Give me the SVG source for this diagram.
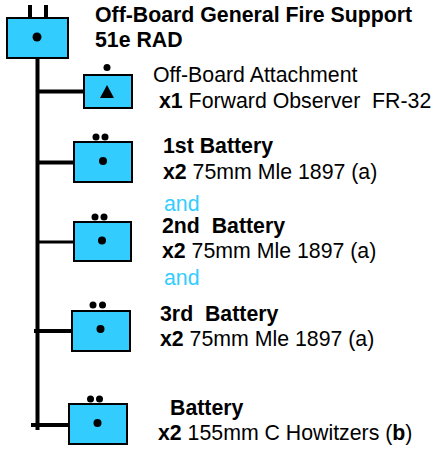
<svg xmlns="http://www.w3.org/2000/svg" width="435" height="449" viewBox="0 0 435 449">
<style>
.box{fill:#33ccff;stroke:#000;stroke-width:2}
.line{stroke:#000;fill:none}
text{font-family:"Liberation Sans",Arial,sans-serif;font-size:21.3px;fill:#000;white-space:pre}
.b{font-weight:bold}
.and{fill:#33ccff}
</style>
<rect width="435" height="449" fill="#fff"/>
<g id="connectors">
<line class="line" x1="37.500" y1="58" x2="37.500" y2="430" stroke-width="4"/>
<line class="line" x1="38" y1="91.500" x2="84" y2="91.500" stroke-width="4"/>
<line class="line" x1="38" y1="162.500" x2="74" y2="162.500" stroke-width="4"/>
<line class="line" x1="36" y1="242" x2="74" y2="242" stroke-width="3"/>
<line class="line" x1="34" y1="331" x2="72" y2="331" stroke-width="4"/>
<line class="line" x1="31" y1="425" x2="69" y2="425" stroke-width="4"/>
<line class="line" x1="30" y1="5" x2="30" y2="18" stroke-width="4"/>
<line class="line" x1="46" y1="5" x2="46" y2="18" stroke-width="4"/>
</g>
<g id="hq">
<rect class="box" x="7" y="18" width="61" height="40"/>
<circle cx="37" cy="37" r="4.500"/>
<text class="b" x="95" y="22">Off-Board General Fire Support</text>
<text class="b" x="95" y="47">51e RAD</text>
</g>
<g id="attachment">
<circle cx="107" cy="67.500" r="3.500"/>
<rect class="box" x="84" y="75" width="48" height="33"/>
<polygon points="107,85 114,98 100,98"/>
<text x="153" y="82">Off-Board Attachment</text>
<text x="159" y="108"><tspan class="b">x1</tspan> Forward Observer  FR-32</text>
</g>
<g id="battery1">
<circle cx="96" cy="137" r="3.500"/><circle cx="105" cy="137" r="3.500"/>
<rect class="box" x="74" y="142" width="58" height="40"/>
<circle cx="103" cy="161" r="4"/>
<text class="b" x="163" y="153">1st Battery</text>
<text x="163" y="179"><tspan class="b">x2</tspan> 75mm Mle 1897 (a)</text>
</g>
<text class="and" x="164" y="211">and</text>
<g id="battery2">
<circle cx="95" cy="217" r="3.500"/><circle cx="104" cy="217" r="3.500"/>
<rect class="box" x="74" y="222" width="57" height="39"/>
<circle cx="102" cy="240.500" r="4"/>
<text class="b" x="162" y="233">2nd  Battery</text>
<text x="162" y="258"><tspan class="b">x2</tspan> 75mm Mle 1897 (a)</text>
</g>
<text class="and" x="164" y="285">and</text>
<g id="battery3">
<circle cx="93" cy="305" r="3.500"/><circle cx="102.500" cy="305" r="3.500"/>
<rect class="box" x="72" y="311" width="58" height="40"/>
<circle cx="100.500" cy="329" r="4"/>
<text class="b" x="160" y="321">3rd  Battery</text>
<text x="160" y="346"><tspan class="b">x2</tspan> 75mm Mle 1897 (a)</text>
</g>
<g id="battery4">
<circle cx="90.500" cy="399" r="3.500"/><circle cx="99.500" cy="399" r="3.500"/>
<rect class="box" x="69" y="404" width="58" height="40"/>
<circle cx="97.500" cy="423" r="4"/>
<text class="b" x="170" y="415">Battery</text>
<text x="158" y="440"><tspan class="b">x2</tspan> 155mm C Howitzers (<tspan class="b">b</tspan>)</text>
</g>
</svg>
